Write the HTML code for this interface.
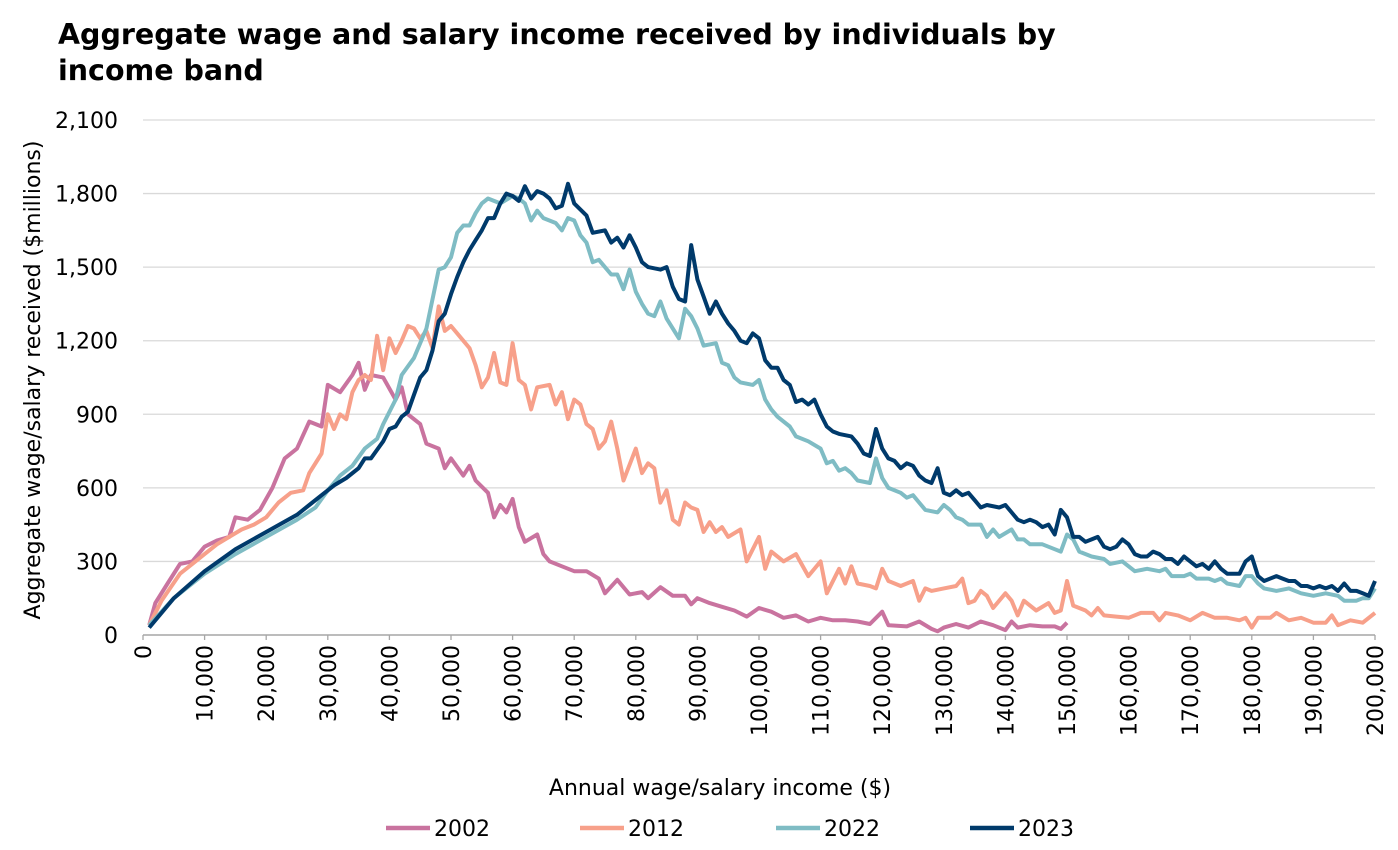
<!DOCTYPE html>
<html><head><meta charset="utf-8"><style>
html,body{margin:0;padding:0;background:#fff;}
svg{display:block;font-family:"DejaVu Sans","Liberation Sans",sans-serif;}
</style></head><body>
<svg id="c" width="1398" height="850" viewBox="0 0 1398 850" xmlns="http://www.w3.org/2000/svg">
<text x="58" y="44" font-size="28.5" font-weight="bold" fill="#000">Aggregate wage and salary income received by individuals by</text>
<text x="58" y="80" font-size="28.5" font-weight="bold" fill="#000">income band</text>
<g id="grid"></g>
<g id="lines" fill="none" stroke-width="4" stroke-linejoin="round"></g>
<text x="720" y="795" font-size="22" text-anchor="middle">Annual wage/salary income ($)</text>
<text transform="translate(40,380) rotate(-90)" font-size="22" text-anchor="middle">Aggregate wage/salary received ($millions)</text>
<g font-size="22">
<line x1="386" y1="828" x2="430" y2="828" stroke="#c9739f" stroke-width="4.5"/><text x="434" y="836">2002</text>
<line x1="580" y1="828" x2="624" y2="828" stroke="#f7a08a" stroke-width="4.5"/><text x="628" y="836">2012</text>
<line x1="776" y1="828" x2="820" y2="828" stroke="#7fbcc4" stroke-width="4.5"/><text x="824" y="836">2022</text>
<line x1="970" y1="828" x2="1014" y2="828" stroke="#003a6b" stroke-width="4.5"/><text x="1018" y="836">2023</text>
</g>
</svg>
<script>
var X0=143,X1=1375,Y0=635,Y1=120;
function px(k){return X0+(X1-X0)*k/200;}
function py(v){return Y0-(Y0-Y1)*v/2100;}
var ns="http://www.w3.org/2000/svg",g=document.getElementById('grid');
function el(t,a,p,txt){var e=document.createElementNS(ns,t);for(var k in a)e.setAttribute(k,a[k]);if(txt!=null)e.textContent=txt;p.appendChild(e);return e;}
for(var v=0;v<=2100;v+=300){var y=py(v);
 if(v>0)el('line',{x1:X0,x2:X1,y1:y,y2:y,stroke:'#d9d9d9','stroke-width':1.3},g);
 el('text',{x:118,y:y+8,'text-anchor':'end','font-size':22},g,v.toLocaleString('en-US'));}
el('line',{x1:X0,x2:X1,y1:Y0,y2:Y0,stroke:'#a6a6a6','stroke-width':1.5},g);
for(var k=0;k<=200;k+=10){var x=px(k);
 el('line',{x1:x,x2:x,y1:Y0,y2:Y0+5,stroke:'#a6a6a6','stroke-width':1.3},g);
 el('text',{transform:'translate('+(x+8)+','+(Y0+10)+') rotate(-90)','text-anchor':'end','font-size':22},g,k==0?'0':(k*1000).toLocaleString('en-US'));}
var S={
'#c9739f':"1:40,2:130,4:210,6:290,8:300,10:360,12:385,14:400,15:480,17:470,19:510,21:600,23:720,25:760,27:870,29:850,30:1020,32:990,34:1060,35:1110,36:1000,37:1060,39:1050,41:960,42:1010,43:900,45:860,46:780,48:760,49:680,50:720,52:650,53:690,54:630,56:580,57:480,58:530,59:500,60:555,61:440,62:380,64:410,65:330,66:300,68:280,70:260,72:260,74:230,75:170,77:225,79:165,81:175,82:150,84:195,86:160,88:160,89:125,90:150,92:130,94:115,96:100,98:75,100:110,102:95,104:70,106:80,108:55,110:70,112:60,114:60,116:55,118:45,120:95,121:40,124:35,126:55,128:25,129:15,130:30,132:45,134:30,136:55,138:40,140:20,141:55,142:30,144:40,146:35,148:35,149:25,150:50",
'#f7a08a':"1:40,3:140,6:250,8:290,10:330,12:370,14:400,16:430,18:450,20:480,22:540,24:580,26:590,27:660,29:740,30:900,31:840,32:900,33:880,34:990,35:1040,36:1060,37:1040,38:1220,39:1080,40:1210,41:1150,42:1200,43:1260,44:1250,45:1210,46:1240,47:1170,48:1340,49:1240,50:1260,52:1200,53:1170,54:1100,55:1010,56:1050,57:1150,58:1030,59:1020,60:1190,61:1040,62:1020,63:920,64:1010,66:1020,67:940,68:990,69:880,70:960,71:940,72:860,73:840,74:760,75:790,76:870,77:760,78:630,80:760,81:660,82:700,83:680,84:540,85:590,86:470,87:450,88:540,89:520,90:510,91:420,92:460,93:420,94:440,95:400,97:430,98:300,100:400,101:270,102:340,104:300,106:330,108:240,110:300,111:170,113:270,114:210,115:280,116:210,118:200,119:190,120:270,121:220,123:200,125:220,126:140,127:190,128:180,130:190,132:200,133:230,134:130,135:140,136:180,137:160,138:110,140:170,141:140,142:80,143:140,145:100,147:130,148:90,149:100,150:220,151:120,153:100,154:80,155:110,156:80,158:75,160:70,162:90,164:90,165:60,166:90,168:80,170:60,172:90,174:70,176:70,178:60,179:70,180:30,181:70,183:70,184:90,186:60,188:70,190:50,192:50,193:80,194:40,196:60,198:50,200:90",
'#7fbcc4':"1:40,5:150,10:250,15:330,20:400,25:470,28:520,30:590,32:650,34:690,36:760,38:800,39:860,41:960,42:1060,44:1130,46:1250,48:1490,49:1500,50:1540,51:1640,52:1670,53:1670,54:1720,55:1760,56:1780,58:1760,60:1790,61:1780,62:1760,63:1690,64:1730,65:1700,67:1680,68:1650,69:1700,70:1690,71:1630,72:1600,73:1520,74:1530,76:1470,77:1470,78:1410,79:1490,80:1400,81:1350,82:1310,83:1300,84:1360,85:1290,87:1210,88:1330,89:1300,90:1250,91:1180,93:1190,94:1110,95:1100,96:1050,97:1030,99:1020,100:1040,101:960,102:920,103:890,104:870,105:850,106:810,108:790,110:760,111:700,112:710,113:670,114:680,115:660,116:630,118:620,119:720,120:640,121:600,123:580,124:560,125:570,126:540,127:510,129:500,130:530,131:510,132:480,133:470,134:450,136:450,137:400,138:430,139:400,141:430,142:390,143:390,144:370,146:370,148:350,149:340,150:410,151:390,152:340,154:320,156:310,157:290,159:300,160:280,161:260,163:270,165:260,166:270,167:240,169:240,170:250,171:230,173:230,174:220,175:230,176:210,178:200,179:240,180:240,181:210,182:190,184:180,186:190,188:170,190:160,192:170,194:160,195:140,197:140,198:150,199:150,200:190",
'#003a6b':"1:30,5:150,10:260,15:350,20:420,25:490,27:530,29:570,31:610,33:640,35:680,36:720,37:720,39:790,40:840,41:850,42:890,43:910,44:980,45:1050,46:1080,47:1160,48:1280,49:1310,50:1390,51:1460,52:1520,53:1570,54:1610,55:1650,56:1700,57:1700,58:1760,59:1800,60:1790,61:1770,62:1830,63:1780,64:1810,65:1800,66:1780,67:1740,68:1750,69:1840,70:1760,72:1710,73:1640,75:1650,76:1600,77:1620,78:1580,79:1630,80:1580,81:1520,82:1500,84:1490,85:1500,86:1420,87:1370,88:1360,89:1590,90:1450,91:1380,92:1310,93:1360,94:1310,95:1270,96:1240,97:1200,98:1190,99:1230,100:1210,101:1120,102:1090,103:1090,104:1040,105:1020,106:950,107:960,108:940,109:960,110:900,111:850,112:830,113:820,115:810,116:780,117:740,118:730,119:840,120:760,121:720,122:710,123:680,124:700,125:690,126:650,127:630,128:620,129:680,130:580,131:570,132:590,133:570,134:580,135:550,136:520,137:530,139:520,140:530,141:500,142:470,143:460,144:470,145:460,146:440,147:450,148:410,149:510,150:480,151:400,152:400,153:380,154:390,155:400,156:360,157:350,158:360,159:390,160:370,161:330,162:320,163:320,164:340,165:330,166:310,167:310,168:290,169:320,170:300,171:280,172:290,173:270,174:300,175:270,176:250,177:250,178:250,179:300,180:320,181:240,182:220,184:240,185:230,186:220,187:220,188:200,189:200,190:190,191:200,192:190,193:200,194:180,195:210,196:180,197:180,198:170,199:160,200:220"};
var L=document.getElementById('lines');
for(var c in S){var pts=S[c].split(',').map(function(p){var a=p.split(':');return px(+a[0]).toFixed(1)+','+py(+a[1]).toFixed(1);}).join(' ');
 el('polyline',{points:pts,stroke:c},L);}
</script>
</body></html>
